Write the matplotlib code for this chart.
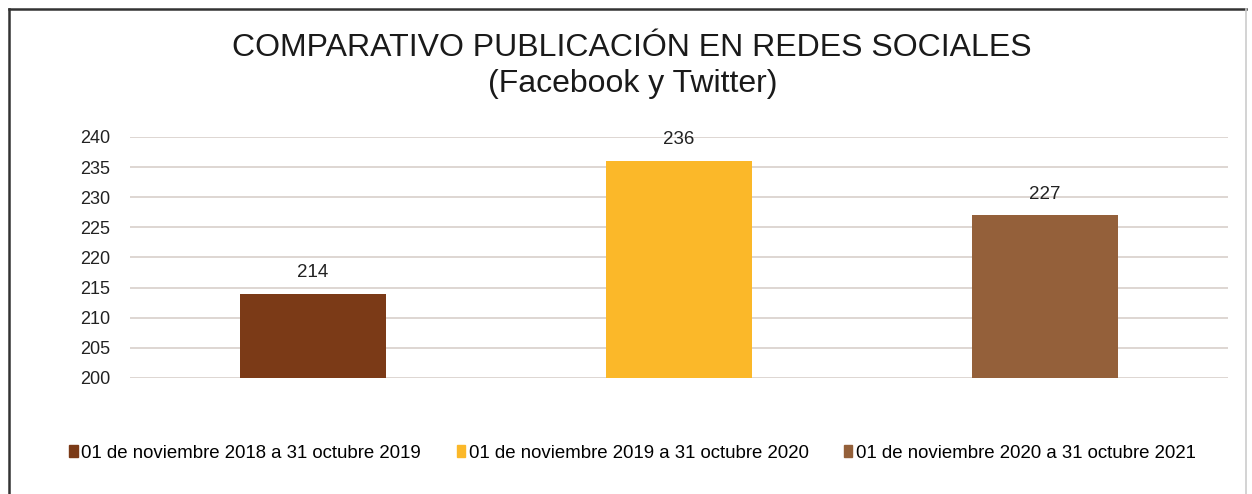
import matplotlib.pyplot as plt
from matplotlib.patches import Patch
from matplotlib.lines import Line2D

# Data
periodos = ["01 de noviembre 2018 a 31 octubre 2019",
            "01 de noviembre 2019 a 31 octubre 2020",
            "01 de noviembre 2020 a 31 octubre 2021"]
publicaciones = [214, 236, 227]
colores = ["#7B3A17", "#FBB829", "#94603A"]
y_ticks = [200, 205, 210, 215, 220, 225, 230, 235, 240]

plt.rcParams["font.family"] = ["Liberation Sans", "DejaVu Sans"]

fig = plt.figure(figsize=(12.52, 4.94), dpi=100)
ax = fig.add_axes([130 / 1252, 1 - 378 / 494, 1098 / 1252, 241 / 494])

x = range(len(periodos))
ax.bar(x, [v - 200 for v in publicaciones], bottom=200, width=0.4,
       color=colores, zorder=3)
for xi, v in zip(x, publicaciones):
    ax.text(xi, v + 2.1, str(v), ha="center", va="bottom", fontsize=13.5, color="#222222")

ax.set_xlim(-0.5, 2.5)
ax.set_ylim(200, 240)
ax.set_yticks(y_ticks)
ax.tick_params(axis="y", labelsize=13, length=0, pad=14, colors="#222222")
ax.set_xticks([])
ax.grid(axis="y", color="#d8cfcb", linewidth=1.2, zorder=0)
for s in ax.spines.values():
    s.set_visible(False)

fig.text(0.505, 1 - 48 / 494, "COMPARATIVO PUBLICACIÓN EN REDES SOCIALES",
         ha="center", va="center", fontsize=23, color="#1a1a1a")
fig.text(0.505, 1 - 84 / 494, "(Facebook y Twitter)",
         ha="center", va="center", fontsize=23, color="#1a1a1a")

handles = [Patch(color=c) for c in colores]
fig.legend(handles, periodos, loc="center left", bbox_to_anchor=(60 / 1252, 1 - 453 / 494),
           ncol=3, frameon=False, fontsize=13.4, handlelength=0.45, handleheight=0.6,
           handletextpad=0.2, columnspacing=1.9, borderpad=0)

# outer frame
fig.add_artist(Line2D([9 / 1252, 9 / 1252], [0, 1 - 9 / 494], transform=fig.transFigure,
                      color="#333333", linewidth=1.8))
fig.add_artist(Line2D([9 / 1252, 1246 / 1252], [1 - 9 / 494, 1 - 9 / 494],
                      transform=fig.transFigure, color="#333333", linewidth=1.8))
fig.add_artist(Line2D([1246 / 1252, 1246 / 1252], [0, 1 - 9 / 494], transform=fig.transFigure,
                      color="#cccccc", linewidth=1.2))

plt.savefig("out.png", dpi=100)
